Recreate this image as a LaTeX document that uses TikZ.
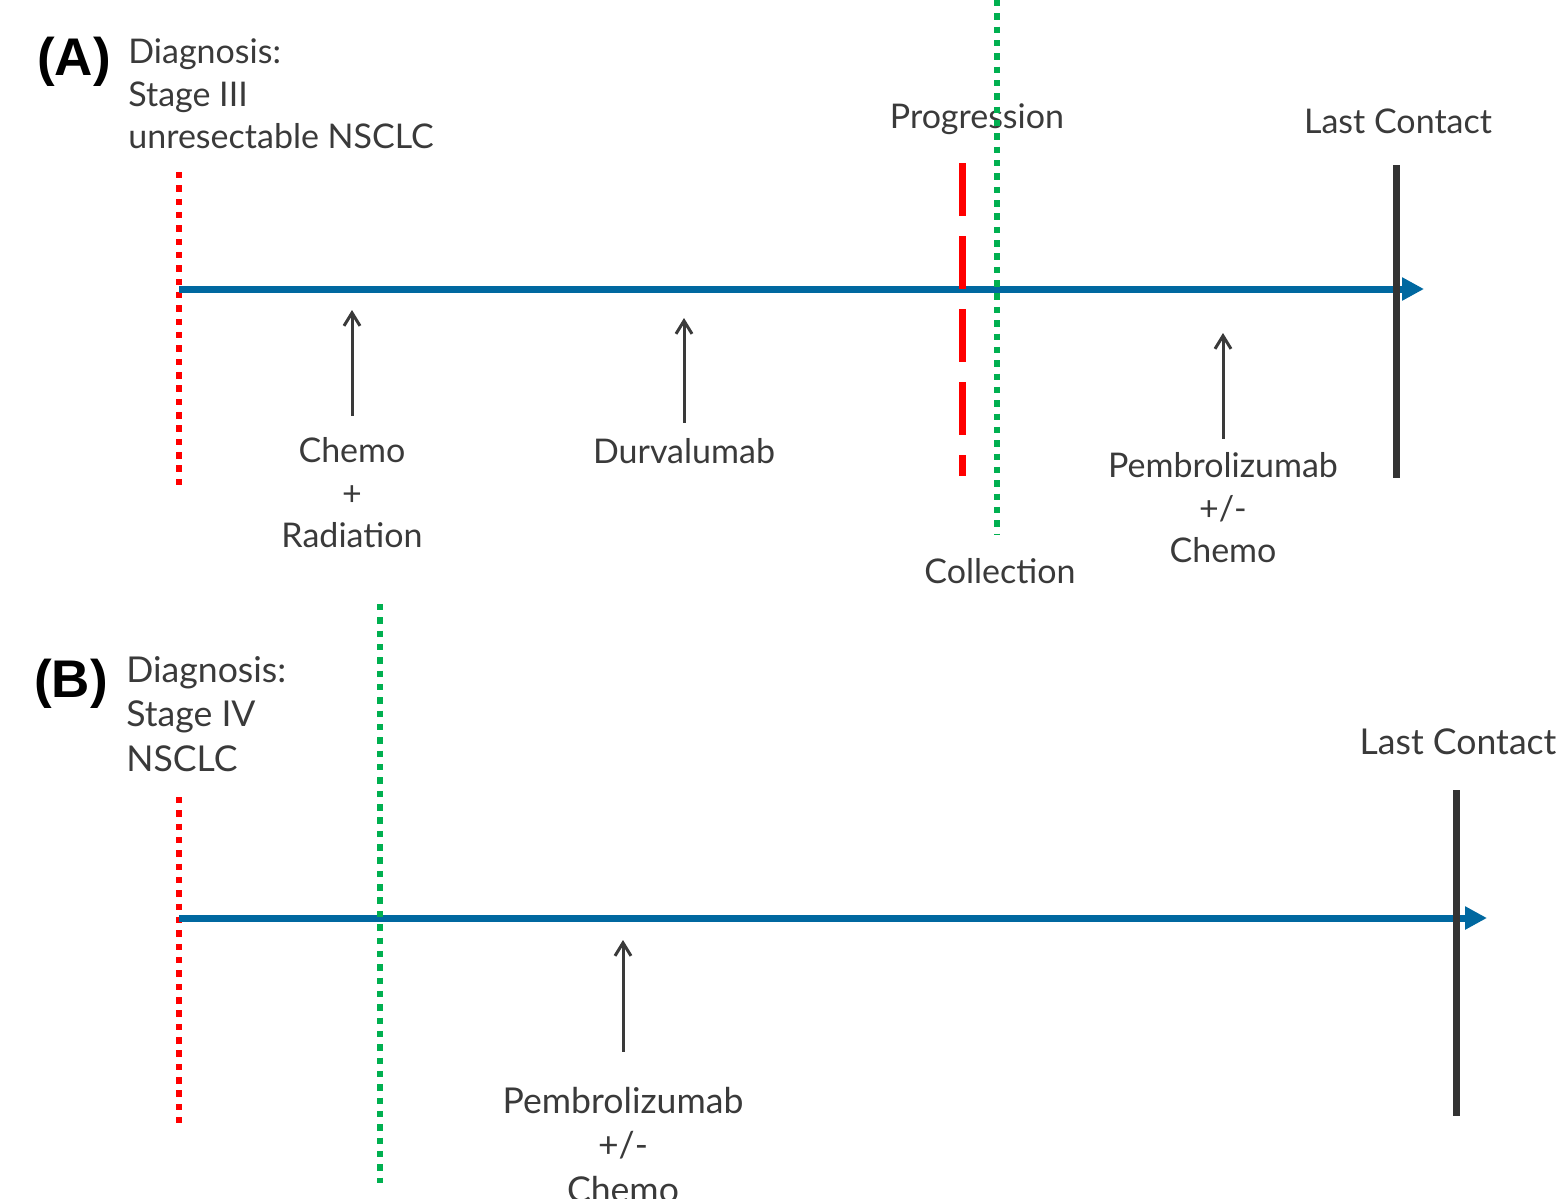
\documentclass[tikz,border=0pt]{standalone}
\usepackage{fontspec}
\setmainfont{Lato}
\newfontfamily\panelfont{Liberation Sans}
\usetikzlibrary{arrows.meta, positioning}
\definecolor{LineBlue}{RGB}{0,104,160}
\definecolor{MarkRed}{RGB}{255,0,0}
\definecolor{MarkGreen}{RGB}{0,176,80}
\definecolor{TextGray}{RGB}{58,58,58}
\definecolor{BarGray}{RGB}{51,51,51}
\tikzset{
  txtA/.style={font=\fontsize{17}{21.2}\selectfont, text=TextGray, inner sep=0pt, align=center},
  txtB/.style={font=\fontsize{17.8}{22.2}\selectfont, text=TextGray, inner sep=0pt, align=center},
  panel/.style={font=\panelfont\bfseries\fontsize{26.5}{30}\selectfont, inner sep=0pt},
  timeline/.style={LineBlue, line width=3.5pt, -{Triangle[length=11pt, width=11pt]}},
  event/.style={TextGray, line width=1.5pt, -{Straight Barb[length=6.5pt, width=8pt]}},
  dotline/.style={line width=3.2pt, dash pattern=on 3.2pt off 3.47pt},
  dashline/.style={MarkRed, line width=3.5pt, dash pattern=on 26.5pt off 10pt},
  bar/.style={BarGray, line width=3.5pt}
}
\begin{document}
\begin{tikzpicture}[x=0.5pt, y=-0.5pt]
  \useasboundingbox (0,0) rectangle (1563,1199);
  % (A) stage III
  \node[panel] (tagA) at (74,62) {(A)};
  \node[txtA, align=left, anchor=west] (diagA) at (128,94) {Diagnosis:\\Stage III\\unresectable NSCLC};
  \node[txtA] (progA) at (977,119) {Progression};
  \node[txtA] (lastA) at (1398,121) {Last Contact};
  \node[txtA] (chemoA) at (352,493) {Chemo\\+\\Radiation};
  \node[txtA] (durvA) at (684,451) {Durvalumab};
  \node[txtA] (pembA) at (1223,508) {Pembrolizumab\\+/-\\Chemo};
  \node[txtA] (collA) at (1000,571) {Collection};
  % markers
  \draw[dotline, MarkRed] (179,172) -- (179,485);
  \coordinate (startA) at (179,289);
  \coordinate (endA) at (1424,289);
  \draw[timeline] (startA) -- (endA);
  \draw[dashline] (962,163) -- (962,476);
  \draw[dotline, MarkGreen] (997,0) -- (997,535);
  \draw[bar] (1396,165) -- (1396,478);
  % treatments
  \coordinate (chemoTip) at (352,310);
  \coordinate (durvTip) at (684,318);
  \coordinate (pembTipA) at (1223,333);
  \draw[event] (chemoA.north) ++(0,-22) -- (chemoTip);
  \draw[event] (durvA.north) ++(0,-15) -- (durvTip);
  \draw[event] (pembA.north) ++(0,-14) -- (pembTipA);

  % (B) stage IV
  \node[panel] (tagB) at (71,684) {(B)};
  \node[txtB, align=left, anchor=west] (diagB) at (126,714) {Diagnosis:\\Stage IV\\NSCLC};
  \node[txtB] (lastB) at (1458,742) {Last Contact};
  \node[txtB] (pembB) at (623,1145) {Pembrolizumab\\+/-\\Chemo};
  % markers
  \draw[dotline, MarkRed] (179,797) -- (179,1123);
  \coordinate (startB) at (179,918);
  \coordinate (endB) at (1487,918);
  \draw[timeline] (startB) -- (endB);
  \draw[dotline, MarkGreen] (380,604) -- (380,1183);
  \draw[bar] (1456,790) -- (1456,1116);
  % treatment
  \coordinate (pembTipB) at (623,940);
  \draw[event] (pembB.north) ++(0,-35) -- (pembTipB);
\end{tikzpicture}
\end{document}
